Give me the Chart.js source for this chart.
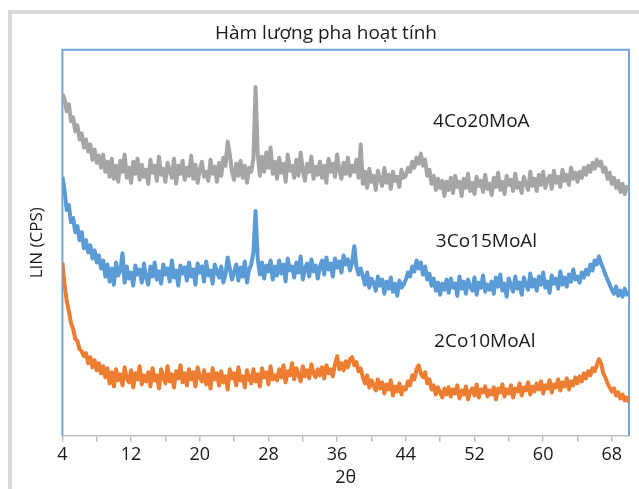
<!DOCTYPE html>
<html>
<head>
<meta charset="utf-8">
<script src="https://cdn.jsdelivr.net/npm/chart.js@4.4.1/dist/chart.umd.min.js"></script>
<style>
    html, body { margin: 0; padding: 0; background: #fff; overflow: hidden; }
    #frame {
        position: absolute; left: 8px; top: 10px; width: 700px; height: 600px;
        border: 4px solid #d9d9d9; box-sizing: border-box;
    }
    #wrap { position: absolute; left: 0; top: 0; width: 639px; height: 489px; }
</style>
</head>
<body>
<div id="frame"></div>
<div id="wrap"><canvas id="xrdChart" width="639" height="489"></canvas></div>
<script>
// 1. DATA (intensity in arbitrary units, 2θ from 4° to 70°, step 0.25°)
const angleStart = 4;
const angleStep = 0.25;

const sampleNames = ['4Co20MoA', '3Co15MoAl', '2Co10MoAl'];
const sampleColors = ['#a5a5a5', '#5b9bd5', '#ed7d31'];

const gray4Co20Mo = [
    339, 334, 322, 329, 312, 316, 302, 308, 294, 300, 286, 294, 282, 289, 274, 284, 271, 278, 266, 279,
    262, 272, 257, 275, 255, 268, 252, 273, 262, 279, 256, 266, 251, 272, 260, 275, 254, 269, 257, 264,
    250, 274, 261, 268, 253, 277, 259, 265, 252, 271, 263, 256, 275, 250, 268, 260, 273, 254, 266, 258,
    278, 255, 269, 251, 264, 272, 257, 262, 253, 274, 260, 267, 252, 271, 258, 276, 268, 292, 279, 262,
    254, 270, 258, 273, 256, 268, 251, 266, 262, 275, 346, 280, 258, 277, 262, 281, 266, 286, 260, 272,
    255, 276, 261, 270, 252, 279, 263, 268, 256, 274, 258, 281, 264, 253, 270, 262, 277, 255, 267, 259,
    272, 256, 268, 251, 275, 262, 270, 257, 279, 264, 255, 271, 260, 276, 258, 268, 262, 274, 256, 289,
    250, 262, 246, 265, 252, 258, 244, 263, 255, 248, 266, 251, 259, 245, 262, 253, 257, 247, 264, 256,
    258, 266, 262, 272, 266, 276, 270, 280, 268, 274, 258, 264, 250, 258, 244, 255, 246, 253, 238, 252,
    244, 256, 241, 258, 247, 252, 238, 255, 246, 260, 243, 251, 240, 257, 248, 253, 242, 259, 245, 250,
    239, 256, 247, 261, 244, 252, 240, 258, 249, 254, 243, 260, 246, 251, 241, 257, 250, 244, 262, 248,
    255, 243, 259, 249, 262, 246, 254, 258, 245, 263, 251, 257, 247, 264, 253, 259, 249, 266, 255, 261,
    252, 262, 256, 266, 259, 268, 262, 271, 265, 274, 268, 272, 262, 266, 255, 261, 250, 256, 246, 253,
    242, 250, 240, 247, 244
];

const blue3Co15Mo = [
    257, 244, 224, 229, 212, 216, 202, 208, 194, 202, 186, 194, 182, 189, 176, 184, 172, 179, 166, 174,
    158, 170, 153, 166, 150, 172, 159, 164, 181, 152, 168, 156, 162, 149, 169, 160, 165, 152, 171, 157,
    150, 168, 158, 172, 155, 163, 151, 170, 160, 166, 153, 174, 157, 164, 149, 169, 161, 167, 154, 172,
    158, 165, 150, 171, 162, 168, 153, 173, 159, 164, 151, 170, 163, 157, 168, 152, 160, 177, 166, 155,
    162, 170, 154, 167, 158, 173, 152, 165, 170, 182, 223, 176, 160, 172, 156, 169, 163, 174, 155, 168,
    159, 174, 161, 170, 153, 176, 164, 168, 157, 172, 162, 178, 155, 166, 171, 158, 175, 163, 169, 156,
    168, 174, 160, 177, 165, 171, 158, 176, 167, 173, 162, 179, 170, 175, 164, 172, 188, 168, 160, 166,
    158, 150, 162, 147, 156, 152, 144, 158, 149, 155, 141, 153, 146, 157, 143, 151, 139, 154, 147, 150,
    155, 162, 158, 168, 163, 174, 166, 172, 160, 168, 155, 161, 149, 156, 144, 152, 140, 151, 145, 155,
    142, 156, 147, 151, 139, 158, 146, 153, 141, 155, 148, 144, 157, 140, 152, 147, 159, 143, 150, 145,
    153, 141, 157, 148, 160, 144, 151, 138, 156, 149, 143, 158, 146, 152, 140, 157, 150, 145, 161, 148,
    155, 144, 158, 150, 162, 147, 153, 142, 159, 151, 156, 146, 163, 150, 157, 148, 160, 153, 165, 155,
    158, 152, 162, 157, 165, 160, 170, 164, 174, 170, 178, 171, 166, 160, 155, 150, 145, 141, 148, 139,
    144, 138, 146, 140, 143
];

const orange2Co10Mo = [
    172, 150, 134, 124, 112, 106, 96, 94, 86, 84, 79, 82, 72, 78, 68, 75, 65, 72, 62, 69,
    58, 67, 52, 63, 49, 66, 55, 61, 50, 68, 57, 53, 65, 48, 62, 56, 69, 51, 60, 54,
    63, 49, 67, 55, 60, 47, 66, 58, 52, 69, 54, 61, 48, 64, 57, 70, 53, 62, 50, 66,
    56, 63, 49, 68, 58, 54, 65, 51, 61, 47, 67, 56, 62, 50, 64, 53, 59, 46, 66, 57,
    62, 50, 68, 55, 59, 48, 65, 57, 52, 66, 54, 61, 49, 67, 58, 63, 51, 69, 56, 60,
    55, 66, 58, 70, 53, 64, 60, 72, 56, 67, 61, 54, 69, 59, 65, 57, 71, 62, 58, 66,
    60, 68, 57, 70, 62, 66, 59, 71, 79, 66, 72, 65, 74, 68, 76, 78, 70, 73, 64, 67,
    58, 52, 60, 48, 55, 50, 45, 56, 47, 53, 42, 51, 46, 55, 40, 49, 44, 52, 41, 48,
    46, 54, 50, 60, 56, 66, 70, 62, 58, 63, 52, 56, 46, 50, 41, 48, 43, 38, 47, 41,
    48, 39, 46, 42, 50, 37, 45, 41, 49, 36, 44, 47, 40, 51, 38, 46, 43, 49, 39, 45,
    41, 48, 36, 47, 43, 51, 39, 46, 42, 50, 38, 47, 44, 52, 40, 48, 45, 53, 41, 49,
    44, 52, 46, 54, 42, 50, 47, 55, 43, 51, 48, 56, 45, 53, 49, 57, 46, 54, 50, 58,
    52, 59, 54, 62, 57, 64, 60, 67, 64, 70, 76, 72, 62, 58, 52, 48, 44, 47, 40, 43,
    37, 41, 35, 38, 33
];

// where the sample names sit (2θ, intensity)
const labelAngles = [52.8, 53.4, 53.2];
const labelLevels = [312, 193, 93];

// 2. HELPERS
function toPoints(values) {
    return values.map((v, i) => ({ x: angleStart + i * angleStep, y: v }));
}

const plotBorder = {
    id: 'plotBorder',
    beforeDatasetsDraw(chart) {
        const { ctx, chartArea: a } = chart;
        ctx.save();
        ctx.strokeStyle = '#6fa6dc';
        ctx.lineWidth = 2;
        ctx.beginPath();
        ctx.moveTo(a.left, a.bottom);
        ctx.lineTo(a.left, a.top);
        ctx.lineTo(a.right, a.top);
        ctx.lineTo(a.right, a.bottom);
        ctx.stroke();
        ctx.restore();
    }
};

const sampleLabels = {
    id: 'sampleLabels',
    afterDatasetsDraw(chart) {
        const { ctx, scales } = chart;
        ctx.save();
        ctx.fillStyle = '#1a1a1a';
        ctx.font = '19px "Open Sans"';
        ctx.textAlign = 'center';
        ctx.textBaseline = 'middle';
        sampleNames.forEach((name, i) => {
            ctx.fillText(name, scales.x.getPixelForValue(labelAngles[i]), scales.y.getPixelForValue(labelLevels[i]));
        });
        ctx.restore();
    }
};

// 3. CHART
const seriesValues = [gray4Co20Mo, blue3Co15Mo, orange2Co10Mo];

new Chart(document.getElementById('xrdChart'), {
    type: 'line',
    data: {
        datasets: seriesValues.map((vals, i) => ({
            label: sampleNames[i],
            data: toPoints(vals),
            borderColor: sampleColors[i],
            borderWidth: 4,
            borderJoinStyle: 'round',
            pointRadius: 0,
            tension: 0
        }))
    },
    options: {
        responsive: false,
        animation: false,
        layout: { padding: { top: 22, left: 23, right: 10, bottom: 0 } },
        plugins: {
            legend: { display: false },
            tooltip: { enabled: false },
            title: {
                display: true,
                text: 'Hàm lượng pha hoạt tính',
                color: '#1a1a1a',
                font: { family: 'Open Sans', size: 19, weight: 'normal' },
                padding: { top: 0, bottom: 5 }
            }
        },
        scales: {
            x: {
                type: 'linear',
                min: 4,
                max: 70,
                ticks: {
                    stepSize: 4,
                    includeBounds: false,
                    autoSkip: false,
                    maxRotation: 0,
                    padding: 2,
                    color: '#1a1a1a',
                    font: { family: 'Open Sans', size: 18 },
                    callback: v => ((v - 4) % 8 === 0 ? v : '')
                },
                grid: { drawOnChartArea: false, tickLength: 6, color: '#bfbfbf', lineWidth: 1.5 },
                border: { color: '#bfbfbf', width: 1.5 },
                title: {
                    display: true,
                    text: '2θ',
                    color: '#1a1a1a',
                    font: { family: 'Open Sans', size: 18 },
                    padding: { top: 0, bottom: 0 }
                }
            },
            y: {
                min: 0,
                max: 383,
                ticks: { display: false },
                grid: { display: false },
                border: { display: false },
                title: {
                    display: true,
                    text: 'LIN (CPS)',
                    color: '#1a1a1a',
                    font: { family: 'Open Sans', size: 17 },
                    padding: { top: 4, bottom: 7 }
                }
            }
        }
    },
    plugins: [plotBorder, sampleLabels]
});
</script>
</body>
</html>
